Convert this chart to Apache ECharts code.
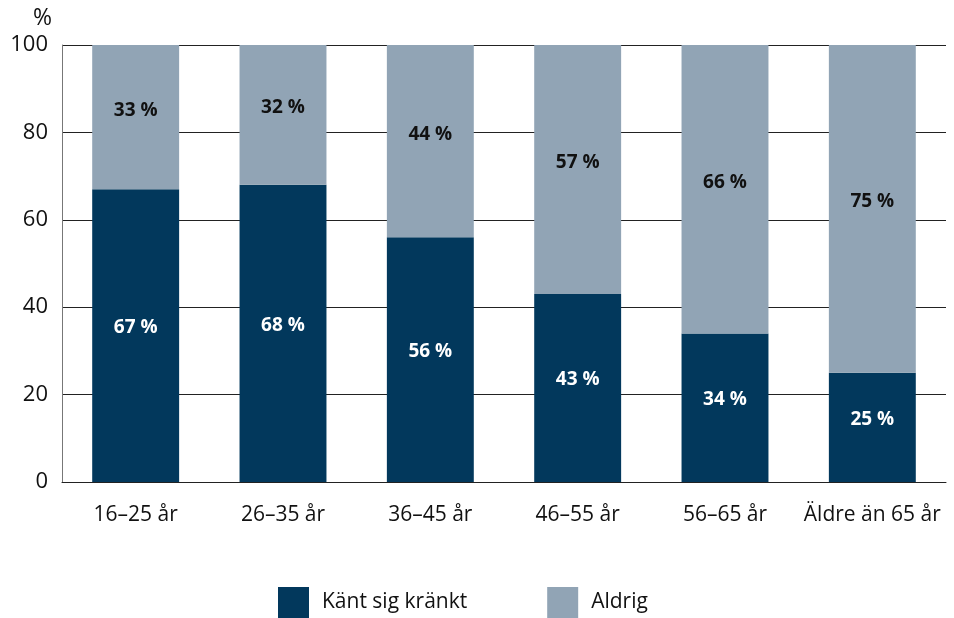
<!DOCTYPE html>
<html><head><meta charset="utf-8">
<script src="https://cdn.jsdelivr.net/npm/echarts@6/dist/echarts.min.js"></script>
<style>html,body{margin:0;padding:0;background:#fff}#c{width:954px;height:618px}</style>
</head><body><div id="c"></div>
<script>
const categories = ['16–25 år','26–35 år','36–45 år','46–55 år','56–65 år','Äldre än 65 år'];
const krankt = [67,68,56,43,34,25];
const aldrig = [33,32,44,57,66,75];
const yTicks = [0,20,40,60,80,100];
const FONT = '"Open Sans", "Noto Sans", sans-serif';
const chart = echarts.init(document.getElementById('c'));
chart.setOption({
  animation:false,
  textStyle:{fontFamily:FONT},
  grid:{left:62,right:8,top:45,bottom:136,containLabel:false},
  title:{text:'%',left:28,top:2,textStyle:{fontFamily:FONT,fontSize:23,fontWeight:'normal',color:'#111'}},
  legend:{bottom:0,left:278,padding:0,itemWidth:31,itemHeight:31,itemGap:80,icon:'rect',
    textStyle:{fontFamily:FONT,fontSize:21,color:'#111',padding:[0,0,0,8]},
    data:['Känt sig kränkt','Aldrig']},
  xAxis:{type:'category',data:categories,
    axisLine:{lineStyle:{color:'#222',width:1}},axisTick:{show:false},
    axisLabel:{fontFamily:FONT,fontSize:21,color:'#111',margin:23,interval:0}},
  yAxis:{type:'value',min:0,max:100,interval:20,
    axisLine:{show:true,lineStyle:{color:'#777'}},axisTick:{show:false},
    splitLine:{lineStyle:{color:'#222',width:1}},
    axisLabel:{fontFamily:FONT,fontSize:22,color:'#111',margin:14,
      formatter:v=>yTicks.includes(v)?String(v):''}},
  series:[
    {name:'Känt sig kränkt',type:'bar',stack:'a',data:krankt,barWidth:'59%',
     itemStyle:{color:'#02385C'},
     label:{show:true,position:'inside',offset:[0,-8],formatter:p=>p.value+' %',
       color:'#fff',fontWeight:'bold',fontSize:19,fontFamily:FONT}},
    {name:'Aldrig',type:'bar',stack:'a',data:aldrig,barWidth:'59%',
     itemStyle:{color:'#91A4B5'},
     label:{show:true,position:'inside',offset:[0,-7],formatter:p=>p.value+' %',
       color:'#111',fontWeight:'bold',fontSize:19,fontFamily:FONT}}
  ]
});
</script></body></html>
